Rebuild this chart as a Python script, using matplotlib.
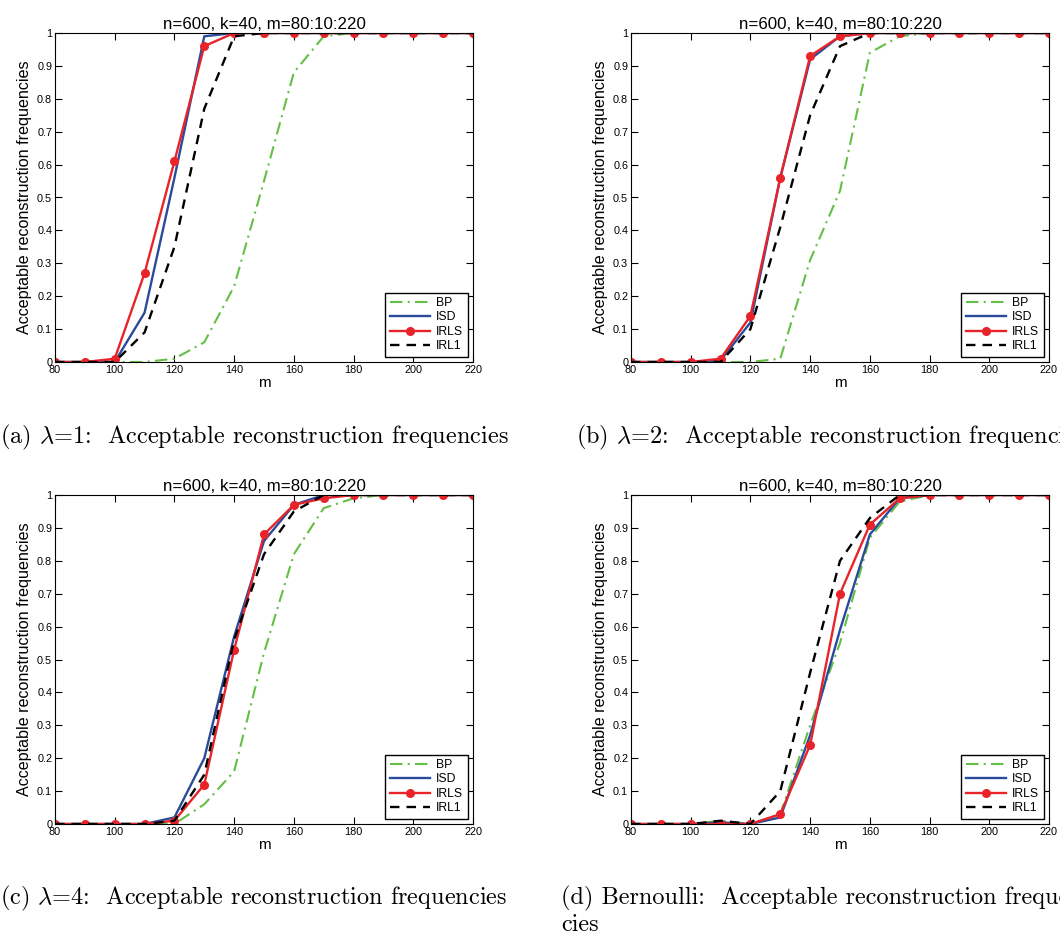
import numpy as np
import matplotlib
matplotlib.use("Agg")
import matplotlib.pyplot as plt

plt.rcParams['font.family'] = ['Liberation Sans', 'DejaVu Sans']
plt.rcParams['mathtext.fontset'] = 'cm'

m = np.arange(80, 221, 10)

# panel (a) lambda=1
bp_a   = [0, 0, 0, 0, 0.01, 0.06, 0.23, 0.55, 0.88, 0.99, 1, 1, 1, 1, 1]
isd_a  = [0, 0, 0, 0.15, 0.56, 0.99, 1, 1, 1, 1, 1, 1, 1, 1, 1]
irls_a = [0, 0, 0.01, 0.27, 0.61, 0.96, 1, 1, 1, 1, 1, 1, 1, 1, 1]
irl1_a = [0, 0, 0, 0.09, 0.35, 0.77, 0.99, 1, 1, 1, 1, 1, 1, 1, 1]

# panel (b) lambda=2
bp_b   = [0, 0, 0, 0, 0, 0.01, 0.31, 0.52, 0.94, 0.99, 1, 1, 1, 1, 1]
isd_b  = [0, 0, 0, 0.005, 0.12, 0.56, 0.92, 0.99, 1, 1, 1, 1, 1, 1, 1]
irls_b = [0, 0, 0, 0.01, 0.14, 0.56, 0.93, 0.99, 1, 1, 1, 1, 1, 1, 1]
irl1_b = [0, 0, 0, 0, 0.10, 0.41, 0.75, 0.96, 1, 1, 1, 1, 1, 1, 1]

# panel (c) lambda=4
bp_c   = [0, 0, 0, 0, 0, 0.06, 0.16, 0.52, 0.82, 0.96, 0.99, 1, 1, 1, 1]
isd_c  = [0, 0, 0, 0, 0.02, 0.20, 0.57, 0.86, 0.97, 1, 1, 1, 1, 1, 1]
irls_c = [0, 0, 0, 0, 0.01, 0.12, 0.53, 0.88, 0.97, 0.99, 1, 1, 1, 1, 1]
irl1_c = [0, 0, 0, 0, 0.01, 0.15, 0.56, 0.82, 0.95, 1, 1, 1, 1, 1, 1]

# panel (d) Bernoulli
bp_d   = [0, 0, 0, 0.01, 0, 0.03, 0.30, 0.55, 0.87, 0.98, 1, 1, 1, 1, 1]
isd_d  = [0, 0, 0, 0.005, 0, 0.02, 0.27, 0.59, 0.88, 0.99, 1, 1, 1, 1, 1]
irls_d = [0, 0, 0, 0, 0, 0.03, 0.24, 0.70, 0.91, 0.99, 1, 1, 1, 1, 1]
irl1_d = [0, 0, 0, 0.01, 0, 0.10, 0.46, 0.80, 0.93, 1, 1, 1, 1, 1, 1]

panels = [(bp_a, isd_a, irls_a, irl1_a),
          (bp_b, isd_b, irls_b, irl1_b),
          (bp_c, isd_c, irls_c, irl1_c),
          (bp_d, isd_d, irls_d, irl1_d)]

# each caption as a list of lines (the right-hand ones run off the page like the original)
captions = [[r"(a) $\lambda$=1:  Acceptable reconstruction frequencies"],
            [r"(b) $\lambda$=2:  Acceptable reconstruction frequencies"],
            [r"(c) $\lambda$=4:  Acceptable reconstruction frequencies"],
            ["(d) Bernoulli:  Acceptable reconstruction frequen-", "cies"]]

W, H = 1060, 938
fig = plt.figure(figsize=(W / 100, H / 100), dpi=100)

boxes = [(55, 33), (631, 33), (55, 495), (631, 495)]
cap_pos = [(0, 443), (576, 443), (0, 904), (561, 904)]

for i, (bp, isd, irls, irl1) in enumerate(panels):
    x0, y0 = boxes[i]
    ax = fig.add_axes([x0 / W, 1 - (y0 + 329) / H, 418 / W, 329 / H])
    ax.plot(m, bp, color='#63bf45', ls=(0, (6, 2.5, 1, 2.5)), lw=1.5, label='BP')
    ax.plot(m, isd, color='#2a4b9b', lw=1.7, label='ISD')
    ax.plot(m, irls, color='#e8242a', lw=1.7, marker='o', ms=5.5, label='IRLS')
    ax.plot(m, irl1, color='black', ls=(0, (4, 3)), lw=1.7, label='IRL1')
    ax.set_xlim(80, 220)
    ax.set_ylim(0, 1)
    ax.set_xticks(np.arange(80, 221, 20))
    ax.set_yticks(np.arange(0, 1.01, 0.1))
    ax.set_yticklabels(['0', '0.1', '0.2', '0.3', '0.4', '0.5', '0.6', '0.7', '0.8', '0.9', '1'])
    ax.tick_params(direction='in', top=True, right=True, length=5, labelsize=7.8, pad=2)
    for s in ax.spines.values():
        s.set_linewidth(0.8)
    ax.set_xlabel('m', fontsize=11, labelpad=1)
    ax.set_ylabel('Acceptable reconstruction frequencies', fontsize=11.6, labelpad=4)
    ax.set_title('n=600, k=40, m=80:10:220', fontsize=12.2, pad=3)
    leg = ax.legend(loc='lower right', fontsize=8.8, fancybox=False, edgecolor='black',
                    framealpha=1, handlelength=3.3, borderaxespad=0.45, labelspacing=0.2,
                    handletextpad=0.5, borderpad=0.35)
    leg.get_frame().set_linewidth(1.0)

    cx, cy = cap_pos[i]
    for j, line in enumerate(captions[i]):
        fig.text(cx / W, 1 - (cy + 27 * j) / H, line, family='cmr10', fontsize=17.5,
                 va='baseline', ha='left')

fig.savefig('out.png', dpi=100)
